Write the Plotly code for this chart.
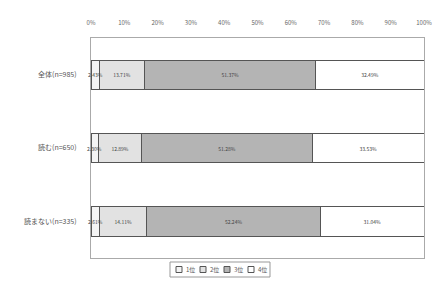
import plotly.graph_objects as go

categories = ["全体(n=985)", "読む(n=650)", "読まない(n=335)"]
rank1 = [2.43, 2.30, 2.61]
rank2 = [13.71, 12.89, 14.11]
rank3 = [51.37, 51.28, 52.24]
rank4 = [32.49, 33.53, 31.04]
series_names = ["1位", "2位", "3位", "4位"]
series_values = [rank1, rank2, rank3, rank4]
colors = ["#f4f4f4", "#e2e2e2", "#b4b4b4", "#ffffff"]
tick_vals = [0, 10, 20, 30, 40, 50, 60, 70, 80, 90, 100]
tick_text = [f"{v}%" for v in tick_vals]

W, H = 442, 286
ML, MR, MT, MB = 91, 18, 38, 28
font_family = "Noto Sans CJK JP"


def px_to_paper(px, py):
    return (px - ML) / (W - ML - MR), (H - MB - py) / (H - MT - MB)


fig = go.Figure()
for i, (name, vals) in enumerate(zip(series_names, series_values)):
    fig.add_trace(go.Bar(
        y=categories, x=vals, name=name, orientation="h", showlegend=False,
        marker=dict(color=colors[i], line=dict(color="#555555", width=1)),
        text=[f"{v:.2f}%" for v in vals] if i > 0 else None,
        textposition="inside", insidetextanchor="middle",
        textfont=dict(size=5, color="#444444", family=font_family),
    ))

# labels of the tiny first segment overflow to the left, as in the original
for c, v in zip(categories, rank1):
    fig.add_annotation(x=v / 2, y=c, text=f"{v:.2f}%", showarrow=False,
                       xanchor="center", font=dict(size=5, color="#444444", family=font_family))

# compact legend (box + swatches + names)
x0, y0 = px_to_paper(170, 262)
x1, y1 = px_to_paper(270, 277)
fig.add_shape(type="rect", xref="paper", yref="paper", x0=x0, y0=y0, x1=x1, y1=y1,
              line=dict(color="#999999", width=1), fillcolor="white")
for i, name in enumerate(series_names):
    sx = 176 + i * 24
    a0, b0 = px_to_paper(sx, 266.5)
    a1, b1 = px_to_paper(sx + 6, 272.5)
    fig.add_shape(type="rect", xref="paper", yref="paper", x0=a0, y0=b1, x1=a1, y1=b0,
                  line=dict(color="#555555", width=1), fillcolor=colors[i])
    tx, ty = px_to_paper(sx + 7.5, 269.5)
    fig.add_annotation(xref="paper", yref="paper", x=tx, y=ty, text=name, showarrow=False,
                       xanchor="left", yanchor="middle",
                       font=dict(size=6, color="#555555", family=font_family))

fig.update_layout(
    width=W, height=H, barmode="stack", bargap=0.6, showlegend=False,
    margin=dict(l=ML, r=MR, t=MT, b=MB, autoexpand=False),
    paper_bgcolor="white", plot_bgcolor="white",
    font=dict(family=font_family, size=6, color="#555555"),
    xaxis=dict(side="top", range=[0, 100], tickvals=tick_vals, ticktext=tick_text,
               automargin=False, ticklabelstandoff=10,
               showgrid=False, showline=True, mirror=True, linecolor="#aaaaaa",
               zeroline=False, ticks="", tickfont=dict(size=6, color="#666666")),
    yaxis=dict(autorange="reversed", showline=True, mirror=True, linecolor="#aaaaaa",
               automargin=False, ticks="", ticklabelstandoff=12,
               tickfont=dict(size=7, color="#555555")),
    uniformtext=dict(minsize=5, mode="show"),
)
fig.write_html("out.html", config={"displayModeBar": False},
               post_script="document.body.style.margin='0';")
